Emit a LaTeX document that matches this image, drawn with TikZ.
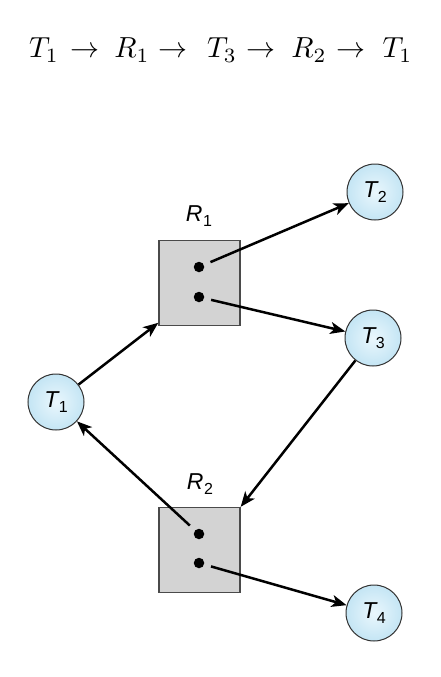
\documentclass[tikz,border=0pt]{standalone}
\usepackage{fontspec}
\newfontfamily\hv{Liberation Sans}
\usetikzlibrary{arrows.meta,calc}
\definecolor{circin}{HTML}{EAF7FD}
\definecolor{circout}{HTML}{C4E5F4}
\definecolor{boxfill}{HTML}{D3D3D3}
\definecolor{boxline}{HTML}{4A4A4A}
\newcommand\lbl[2]{{\hv\fontsize{23}{26}\selectfont\itshape #1}\kern0.5pt\raisebox{-5.5pt}{\hv\fontsize{16}{17}\selectfont #2}}
\begin{document}
\begin{tikzpicture}[x=1pt,y=-1pt,
  proc/.style={circle,draw=black!80,line width=1pt,minimum size=56pt,inner sep=0pt,
    inner color=circin,outer color=circout},
  res/.style={rectangle,draw=boxline,line width=1.4pt,fill=boxfill,minimum width=81pt,minimum height=85pt,inner sep=0pt},
  dotn/.style={circle,fill=black,minimum size=10.5pt,inner sep=0pt},
  edge/.style={line width=2.5pt,-{Stealth[length=15pt,width=12pt,inset=4pt]}},
  fromdot/.style={edge,shorten <=7pt},
  fml/.style={anchor=base,inner sep=0pt,font=\fontsize{10}{12}\selectfont,scale=2.9}]
\useasboundingbox (0,0) rectangle (440,677);
% formula
\node[fml] (f1) at (44,58) {$T_1$};
\node[fml] (a1) at (84.5,58) {$\rightarrow$};
\node[fml] (f2) at (132,58) {$R_1$};
\node[fml] (a2) at (173,58) {$\rightarrow$};
\node[fml] (f3) at (222,58) {$T_3$};
\node[fml] (a3) at (261,58) {$\rightarrow$};
\node[fml] (f4) at (309,58) {$R_2$};
\node[fml] (a4) at (350.5,58) {$\rightarrow$};
\node[fml] (f5) at (397.5,58) {$T_1$};
% resources
\node[res] (R1) at (199.5,283) {};
\node[res] (R2) at (199.5,550) {};
\node (R1l) at (199,216) {\lbl{R}{1}};
\node (R2l) at (200,484) {\lbl{R}{2}};
\node[dotn] (d11) at (199,267) {};
\node[dotn] (d12) at (199,297) {};
\node[dotn] (d21) at (199,534) {};
\node[dotn] (d22) at (199,563) {};
% processes
\node[proc] (T1) at (56,402) {\lbl{T}{1}};
\node[proc] (T2) at (375,192) {\lbl{T}{2}};
\node[proc] (T3) at (373,338) {\lbl{T}{3}};
\node[proc] (T4) at (374,613) {\lbl{T}{4}};
% edges
\draw[edge] (T1) -- (R1.224);
\draw[fromdot] (d11) -- (T2);
\draw[fromdot] (d12) -- (T3);
\draw[edge] (T3) -- (R2.north east);
\draw[fromdot] (d21) -- (T1);
\draw[fromdot] (d22) -- (T4);
\end{tikzpicture}
\end{document}
